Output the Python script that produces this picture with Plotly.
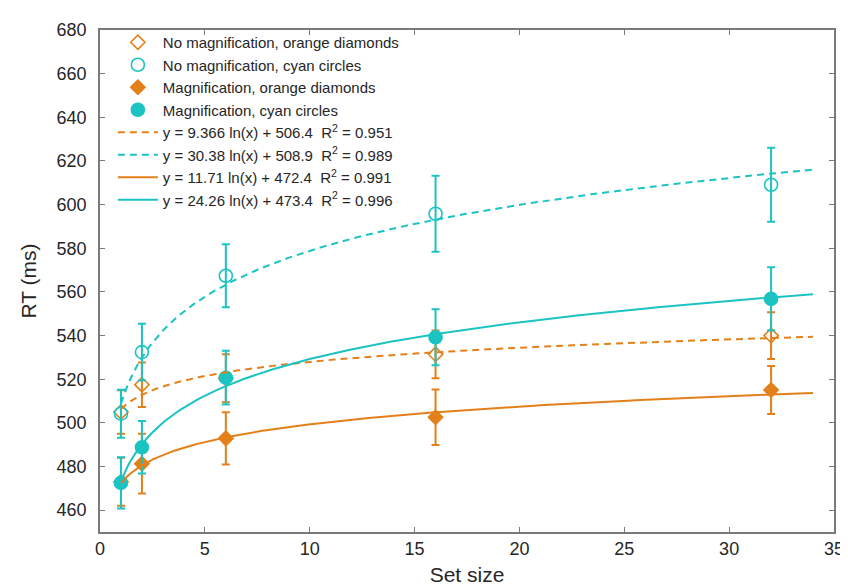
import numpy as np
import plotly.graph_objects as go

# ---- data ----
set_size = [1, 2, 6, 16, 32]

nomag_orange = [505.0, 517.5, 520.4, 531.4, 540.0]
nomag_orange_err = [10.0, 10.2, 11.0, 10.9, 10.7]

nomag_cyan = [504.2, 532.4, 567.4, 595.8, 609.1]
nomag_cyan_err = [11.0, 13.0, 14.4, 17.4, 16.9]

mag_orange = [473.0, 481.3, 492.9, 502.6, 515.1]
mag_orange_err = [11.0, 13.7, 12.0, 12.7, 11.0]

mag_cyan = [472.5, 488.8, 520.7, 539.2, 556.8]
mag_cyan_err = [11.7, 12.0, 12.3, 12.8, 14.5]

# fitted log curves y = a ln(x) + b (from the legend)
fit_a = [9.366, 30.38, 11.71, 24.26]
fit_b = [506.4, 508.9, 472.4, 473.4]
fit_r2 = ["0.951", "0.989", "0.991", "0.996"]
fit_x_range = [1, 34]

x_ticks = [0, 5, 10, 15, 20, 25, 30, 35]
y_ticks = [460, 480, 500, 520, 540, 560, 580, 600, 620, 640, 660, 680]

ORANGE = "#E3801A"
CYAN = "#1CC3C3"
FONT = "Liberation Sans, Arial, Helvetica, sans-serif"

fig = go.Figure()

def data_trace(name, y, err, color, symbol, size):
    return go.Scatter(
        x=set_size, y=y, name=name, mode="markers",
        marker=dict(symbol=symbol, size=size, color=color,
                    line=dict(color=color, width=1.6)),
        error_y=dict(type="data", array=err, visible=True, color=color,
                     thickness=2, width=4),
    )

fig.add_trace(data_trace("No magnification, orange diamonds", nomag_orange,
                         nomag_orange_err, ORANGE, "diamond-open", 11))
fig.add_trace(data_trace("No magnification, cyan circles", nomag_cyan,
                         nomag_cyan_err, CYAN, "circle-open", 13))
fig.add_trace(data_trace("Magnification, orange diamonds", mag_orange,
                         mag_orange_err, ORANGE, "diamond", 11))
fig.add_trace(data_trace("Magnification, cyan circles", mag_cyan,
                         mag_cyan_err, CYAN, "circle", 13))

xf = np.linspace(fit_x_range[0], fit_x_range[1], 300)
fit_colors = [ORANGE, CYAN, ORANGE, CYAN]
fit_dash = ["7px,5px", "7px,5px", "solid", "solid"]
for a, b, r2, c, d in zip(fit_a, fit_b, fit_r2, fit_colors, fit_dash):
    fig.add_trace(go.Scatter(
        x=xf, y=a * np.log(xf) + b, mode="lines",
        name=f"y = {a:g} ln(x) + {b:g}  R<sup>2</sup> = {r2}",
        line=dict(color=c, width=2, dash=d),
    ))

axis_common = dict(
    showline=True, linecolor="#7a7a7a", linewidth=1.5, mirror="ticks",
    ticks="inside", ticklen=5, tickwidth=1.2, tickcolor="#7a7a7a",
    showgrid=False, zeroline=False,
    tickfont=dict(family=FONT, size=18, color="#262626"),
)

fig.update_layout(
    width=848, height=587,
    margin=dict(l=92, r=12, t=20, b=58),
    paper_bgcolor="white", plot_bgcolor="white",
    font=dict(family=FONT, color="#262626"),
    xaxis=dict(range=[0, 35], tickvals=x_ticks, ticklabelstandoff=0,
               title=dict(text="Set size", font=dict(size=21), standoff=9),
               **axis_common),
    yaxis=dict(range=[450, 680], tickvals=y_ticks, ticklabelstandoff=8,
               title=dict(text="RT (ms)", font=dict(size=21), standoff=14),
               **axis_common),
    legend=dict(x=0.0175, y=1.008, xanchor="left", yanchor="top",
                bgcolor="rgba(255,255,255,0)", borderwidth=0,
                font=dict(family=FONT, size=15, color="#262626"),
                tracegroupgap=0, itemwidth=40),
    showlegend=True,
)

fig.write_html("out.html")
